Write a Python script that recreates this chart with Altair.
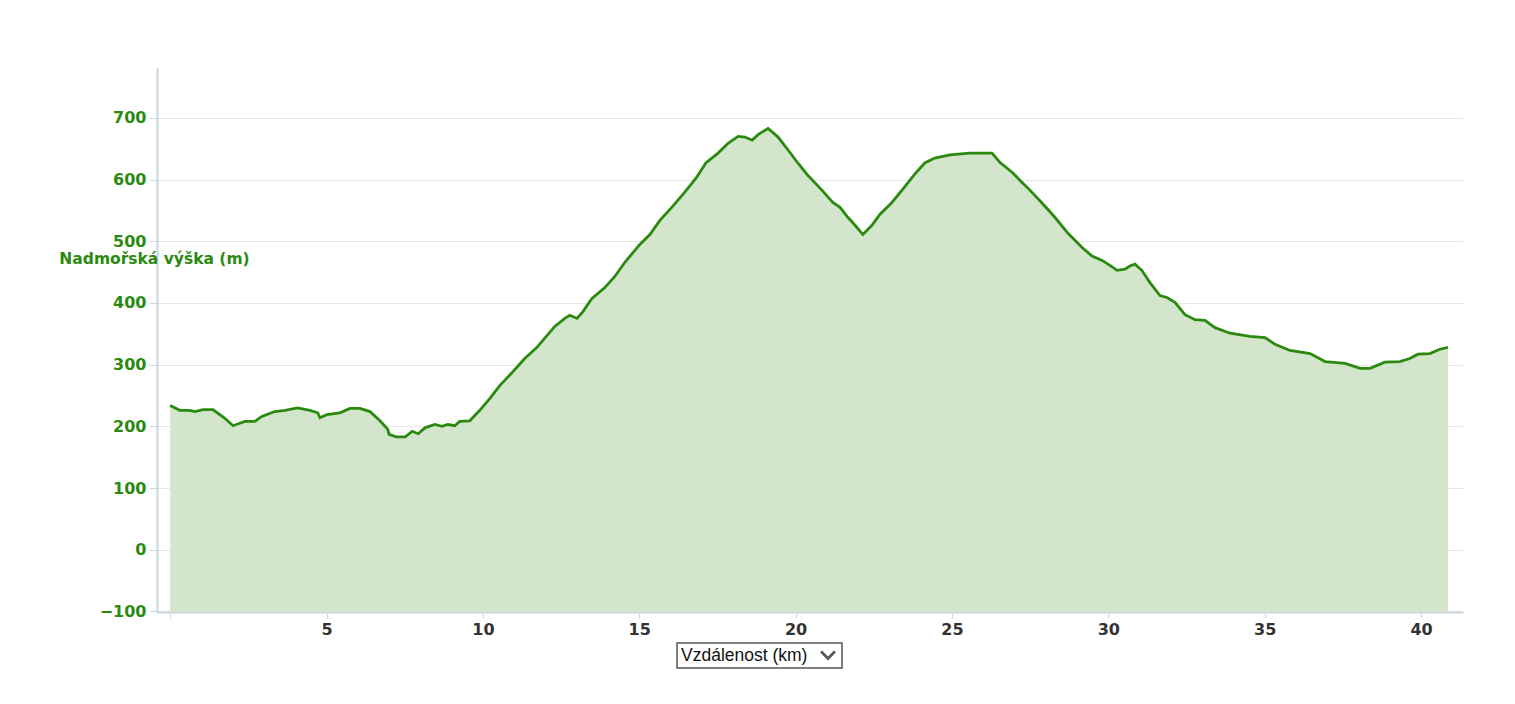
import altair as alt
import pandas as pd

km = [0, 0.31, 0.63, 0.79, 1.05, 1.37, 1.75, 2.01, 2.23, 2.39, 2.71, 2.93, 3.35, 3.67, 4.08,
      4.47, 4.72, 4.79, 5.01, 5.43, 5.75, 6.07, 6.39, 6.71, 6.96, 7.0, 7.23, 7.52, 7.74, 7.93,
      8.16, 8.47, 8.69, 8.88, 9.10, 9.26, 9.58, 9.90, 10.22, 10.54, 10.93, 11.34, 11.73, 11.98,
      12.30, 12.62, 12.78, 13.01, 13.20, 13.48, 13.90, 14.22, 14.54, 15.02, 15.34, 15.66, 16.04,
      16.43, 16.81, 17.13, 17.52, 17.84, 18.16, 18.38, 18.61, 18.80, 19.12, 19.44, 19.82, 20.07,
      20.39, 20.84, 21.19, 21.42, 21.67, 21.90, 22.15, 22.44, 22.70, 23.08, 23.50, 23.81, 24.13,
      24.45, 24.93, 25.57, 26.28, 26.53, 26.92, 27.17, 27.49, 27.88, 28.29, 28.71, 29.16, 29.48,
      29.80, 30.05, 30.28, 30.53, 30.69, 30.85, 31.07, 31.33, 31.65, 31.87, 32.13, 32.45, 32.77,
      33.09, 33.41, 33.89, 34.53, 35.01, 35.33, 35.81, 36.45, 36.93, 37.57, 38.05, 38.37, 38.84,
      39.32, 39.64, 39.90, 40.28, 40.60, 40.86]
elev = [234, 226, 226, 224, 227, 227, 213, 201, 205, 208, 208, 216, 224, 226, 230,
        226, 222, 214, 219, 222, 229, 229, 224, 209, 195, 187, 183, 183, 192, 188,
        198, 203, 200, 203, 201, 208, 209, 226, 245, 266, 287, 310, 328, 343,
        362, 375, 380, 375, 386, 407, 425, 443, 466, 495, 511, 534, 555,
        578, 602, 627, 643, 659, 670, 669, 664, 673, 683, 669, 644, 627,
        607, 583, 563, 555, 539, 526, 511, 526, 544, 563, 589, 609, 627,
        635, 640, 643, 643, 628, 612, 599, 583, 562, 539, 513, 490, 476,
        469, 461, 453, 455, 460, 463, 453, 433, 412, 409, 401, 381, 373,
        372, 360, 351, 346, 344, 333, 323, 318, 305, 302, 294, 294, 304,
        305, 310, 317, 318, 325, 328]

x_ticks = [0, 5, 10, 15, 20, 25, 30, 35, 40]
y_ticks = [-100, 0, 100, 200, 300, 400, 500, 600, 700]
y_min, y_max = -101, 781

df = pd.DataFrame({"km": km, "elev": elev})

W, H = 1306, 544
GREEN = "#2a8a10"
FONT = "DejaVu Sans"

xs = alt.Scale(domain=[-0.42, 41.34], nice=False, zero=False)
ys = alt.Scale(domain=[y_min, y_max], nice=False, zero=False)

x_enc = alt.X("km:Q", scale=xs, axis=alt.Axis(
    values=x_ticks, title=None, grid=False, domainColor="#ccd6e0", domainWidth=2,
    tickColor="#ccd6e0", tickSize=6, labelFont=FONT, labelFontWeight="bold",
    labelFontSize=16, labelColor="#333333", labelPadding=3,
    labelExpr="datum.value == 0 ? '' : datum.label"))
y_enc = alt.Y("elev:Q", scale=ys, axis=alt.Axis(
    values=y_ticks, grid=True, gridColor="#e6e6e6", domainColor="#ccd6e0", domainWidth=2,
    tickColor="#ccd6e0", tickSize=8, labelFont=FONT, labelFontWeight="bold",
    labelFontSize=16, labelColor=GREEN, labelPadding=3,
    title="Nadmořská výška (m)", titleAngle=0, titleX=-3, titleY=190,
    titleAlign="center", titleBaseline="middle", titleFont=FONT,
    titleFontSize=15.5, titleFontWeight="bold", titleColor=GREEN))

area = alt.Chart(df).mark_area(color="#d3e6cb", opacity=1).encode(
    x=x_enc, y=y_enc, y2=alt.datum(y_min))
line = alt.Chart(df).mark_line(color=GREEN, strokeWidth=2.8).encode(x="km:Q", y="elev:Q")

box = alt.Chart(pd.DataFrame({"t": ["Vzdálenost (km)"]})).mark_rect(
    fill="white", stroke="#555555", strokeWidth=1.5, clip=False).encode(
    x=alt.value(520), x2=alt.value(685), y=alt.value(575), y2=alt.value(600))
box_text = alt.Chart(pd.DataFrame({"t": ["Vzdálenost (km)"]})).mark_text(
    font="Liberation Sans", fontSize=17.5, color="#111111", align="left",
    baseline="middle", clip=False).encode(
    text="t:N", x=alt.value(524), y=alt.value(588))
chev = alt.Chart(pd.DataFrame({"t": ["v"]})).mark_point(
    shape="M-1,-0.5L0,0.5L1,-0.5", filled=False, stroke="#111111", strokeWidth=2.8,
    size=190, clip=False).encode(x=alt.value(671), y=alt.value(587))

chart = alt.layer(area, line, box, box_text, chev).properties(
    width=W, height=H, padding={"left": 149, "top": 60, "right": 36, "bottom": 84},
    autosize=alt.AutoSizeParams(type="none")
).configure_view(stroke=None)

chart.save("out.html", embed_options={"renderer": "svg", "actions": False})
